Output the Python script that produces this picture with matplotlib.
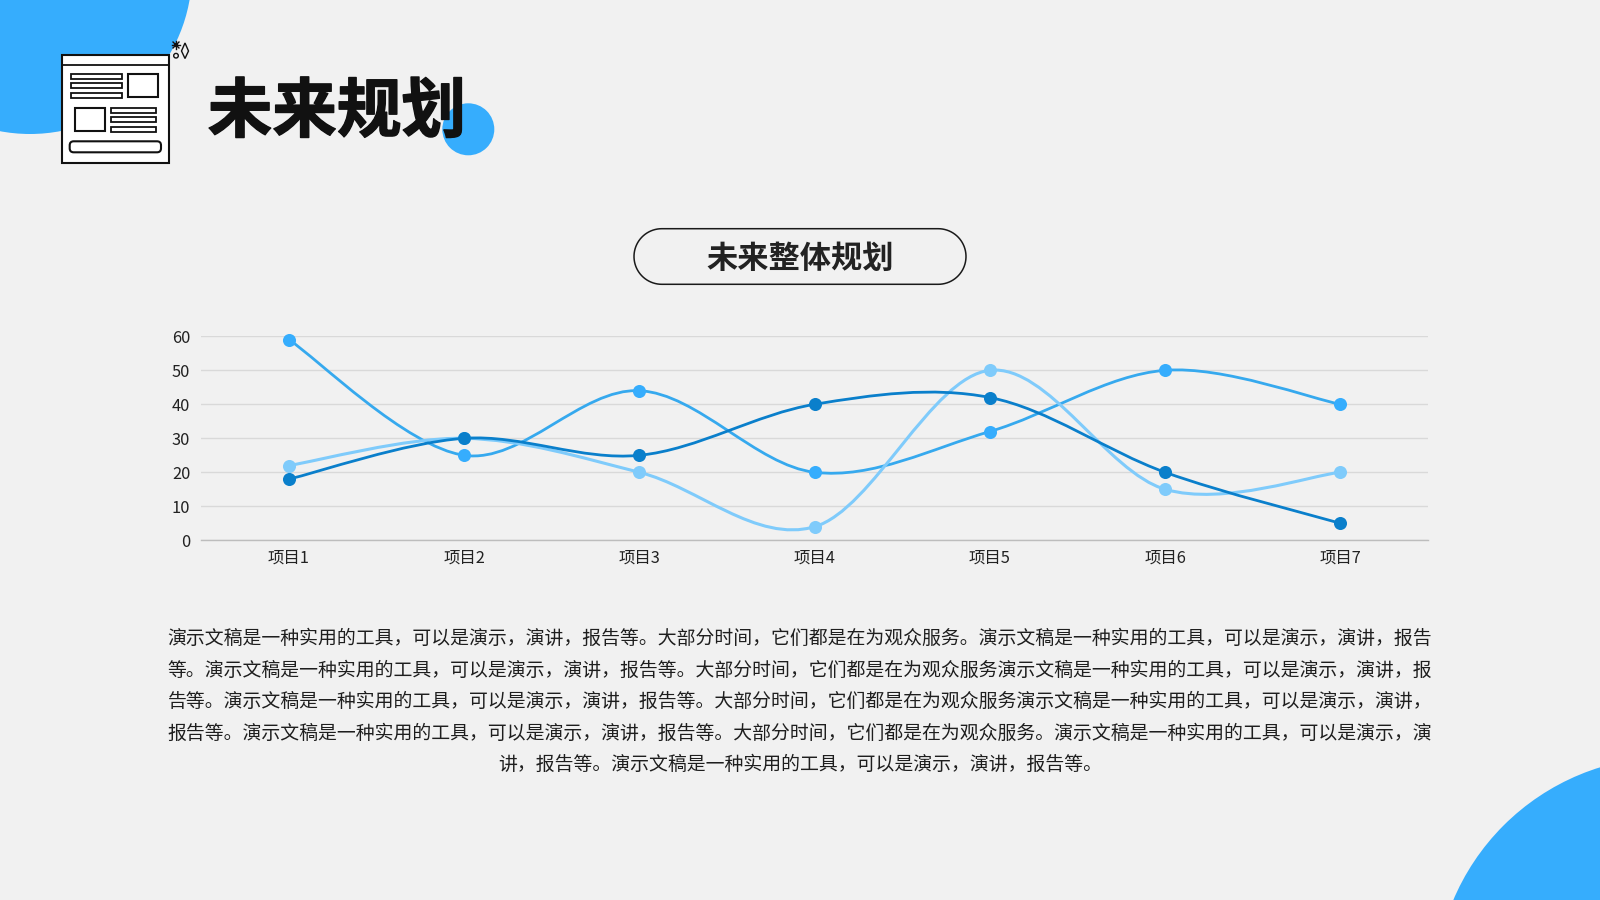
import matplotlib
matplotlib.use('Agg')
import matplotlib.pyplot as plt
import matplotlib.patheffects as pe
from matplotlib.patches import Circle, FancyBboxPatch, PathPatch, Polygon, Rectangle
from matplotlib.path import Path
import numpy as np

plt.rcParams['font.family'] = ['Noto Sans CJK SC', 'DejaVu Sans']

categories = ['项目1', '项目2', '项目3', '项目4', '项目5', '项目6', '项目7']
series_mid = [59, 25, 44, 20, 32, 50, 40]
series_light = [22, 30, 20, 4, 50, 15, 20]
series_dark = [18, 30, 25, 40, 42, 20, 5]
y_ticks = [0, 10, 20, 30, 40, 50, 60]

title = '未来规划'
subtitle = '未来整体规划'
body_lines = [
    '演示文稿是一种实用的工具,可以是演示,演讲,报告等。大部分时间,它们都是在为观众服务。演示文稿是一种实用的工具,可以是演示,演讲,报告',
    '等。演示文稿是一种实用的工具,可以是演示,演讲,报告等。大部分时间,它们都是在为观众服务演示文稿是一种实用的工具,可以是演示,演讲,报',
    '告等。演示文稿是一种实用的工具,可以是演示,演讲,报告等。大部分时间,它们都是在为观众服务演示文稿是一种实用的工具,可以是演示,演讲,',
    '报告等。演示文稿是一种实用的工具,可以是演示,演讲,报告等。大部分时间,它们都是在为观众服务。演示文稿是一种实用的工具,可以是演示,演',
    '讲,报告等。演示文稿是一种实用的工具,可以是演示,演讲,报告等。',
]
# full width commas as in the slide
body_lines = [line.replace(',', '\uff0c') for line in body_lines]

BG = '#F1F1F1'
BLUE = '#36ADFD'
MID = '#36A9EE'
LIGHT = '#7FCBFB'
DARK = '#0A7FCB'
INK = '#111111'


def smooth_path(values):
    # same curve office charts use for "smooth line"
    pts = np.column_stack([np.arange(len(values)), values]).astype(float)
    verts = [pts[0]]
    codes = [Path.MOVETO]
    n = len(pts)
    for i in range(n - 1):
        prev_pt = pts[max(i - 1, 0)]
        next_pt = pts[min(i + 2, n - 1)]
        verts.append(pts[i] + (pts[i + 1] - prev_pt) / 6)
        verts.append(pts[i + 1] - (next_pt - pts[i]) / 6)
        verts.append(pts[i + 1])
        codes += [Path.CURVE4] * 3
    return Path(verts, codes)


def draw_pill(ax, x0, y0, x1, y1, lw, fc='none', ec=INK, zorder=3):
    r = (y1 - y0) / 2
    a = np.linspace(-np.pi / 2, np.pi / 2, 40)
    xs = np.r_[x1 - r + r * np.cos(a), x0 + r - r * np.cos(a)]
    ys = np.r_[y0 + r + r * np.sin(a), y0 + r - r * np.sin(a)]
    ax.add_patch(Polygon(np.column_stack([xs, ys]), closed=True, fc=fc, ec=ec, lw=lw, zorder=zorder))


def draw_box(ax, x0, y0, x1, y1, lw=1.5, fc='white'):
    ax.add_patch(Rectangle((x0, y0), x1 - x0, y1 - y0, fc=fc, ec=INK, lw=lw, zorder=3))


def draw_icon(ax):
    draw_box(ax, 62, 54.7, 168.7, 162.7)
    ax.plot([62, 168.7], [65, 65], color=INK, lw=1.3, zorder=4)
    for y0, y1 in [(74, 78.7), (83.3, 88.3), (93, 98)]:
        draw_box(ax, 71, y0, 122.3, y1, lw=1.3)
    draw_box(ax, 128.3, 74, 158.3, 97.3)
    draw_box(ax, 74.7, 108, 105, 131.3)
    for y0, y1 in [(108, 112.7), (117.3, 122.3), (127, 131.7)]:
        draw_box(ax, 111.3, y0, 156, y1, lw=1.3)
    ax.add_patch(FancyBboxPatch((69.7, 141.3), 91.3, 11, boxstyle='round,pad=0,rounding_size=4',
                                fc='white', ec=INK, lw=1.5, zorder=3))
    # little sparkles next to the icon
    for a in np.linspace(0, np.pi, 4, endpoint=False):
        dx, dy = 4.2 * np.cos(a), 4.2 * np.sin(a)
        ax.plot([176 - dx, 176 + dx], [45 - dy, 45 + dy], color=INK, lw=1.0, zorder=4)
    ax.add_patch(Circle((176, 45), 2.2, fc=INK, ec='none', zorder=4))
    ax.add_patch(Circle((176, 55.7), 2.3, fc='none', ec=INK, lw=1.0, zorder=4))
    ax.add_patch(Polygon([(185, 43), (188.5, 51), (185, 58.5), (181.5, 51)], closed=True,
                         fc='none', ec=INK, lw=1.0, zorder=4))


fig = plt.figure(figsize=(16, 9), dpi=100, facecolor=BG)

# page layer, in pixels
page = fig.add_axes([0, 0, 1, 1], zorder=0)
page.set_xlim(0, 1600)
page.set_ylim(900, 0)
page.axis('off')

page.add_patch(Circle((30, -28), 162, fc=BLUE, ec='none'))
page.add_patch(Circle((468.3, 129.3), 26, fc=BLUE, ec='none'))
page.add_patch(Circle((1669.5, 991.6), 234.8, fc=BLUE, ec='none'))
draw_icon(page)

title_text = page.text(337, 113, title, fontsize=46.5, fontweight='black', color=INK, ha='center', va='center', zorder=5)
title_text.set_path_effects([pe.withStroke(linewidth=1.0, foreground=INK)])

draw_pill(page, 634, 228.7, 966, 284.3, lw=1.1, ec='#1A1A1A')
page.text(800, 258.5, subtitle, fontsize=22.5, fontweight='bold', color='#222222', ha='center', va='center')

for y, line in zip([638.5, 670, 701.5, 733, 764.5], body_lines):
    page.text(800, y, line, fontsize=13.6, color='#1E1E1E', ha='center', va='center')

# chart
left, right, top, bottom = 201.3, 1428, 336.3, 540.3
ax = fig.add_axes([left / 1600, 1 - bottom / 900, (right - left) / 1600, (bottom - top) / 900], zorder=1)
ax.patch.set_alpha(0)
ax.set_xlim(-0.5, len(categories) - 0.5)
ax.set_ylim(0, 60)
ax.set_xticks(range(len(categories)))
ax.set_xticklabels(categories)
ax.set_yticks(y_ticks)
ax.tick_params(length=0, labelsize=11.8, labelcolor='#222222')
ax.tick_params(axis='x', pad=7)
ax.tick_params(axis='y', pad=8)
for s in ['top', 'right', 'left']:
    ax.spines[s].set_visible(False)
ax.spines['bottom'].set_color('#BDBDBD')
ax.spines['bottom'].set_linewidth(1.0)
ax.grid(axis='y', color='#D9D9D9', lw=1.0)
ax.set_axisbelow(True)

xs = np.arange(len(categories))
for values, color, lw in [(series_mid, MID, 2.0), (series_light, LIGHT, 2.2), (series_dark, DARK, 2.0)]:
    ax.add_patch(PathPatch(smooth_path(values), fc='none', ec=color, lw=lw, capstyle='round', zorder=3, clip_on=False))

marker_colors = [(series_mid, BLUE), (series_light, LIGHT), (series_dark, DARK)]
for values, color in marker_colors:
    ax.plot(xs, values, ls='none', marker='o', ms=9.4, mfc=color, mec='none', zorder=4, clip_on=False)

fig.savefig('out.png', dpi=100, facecolor=BG)
